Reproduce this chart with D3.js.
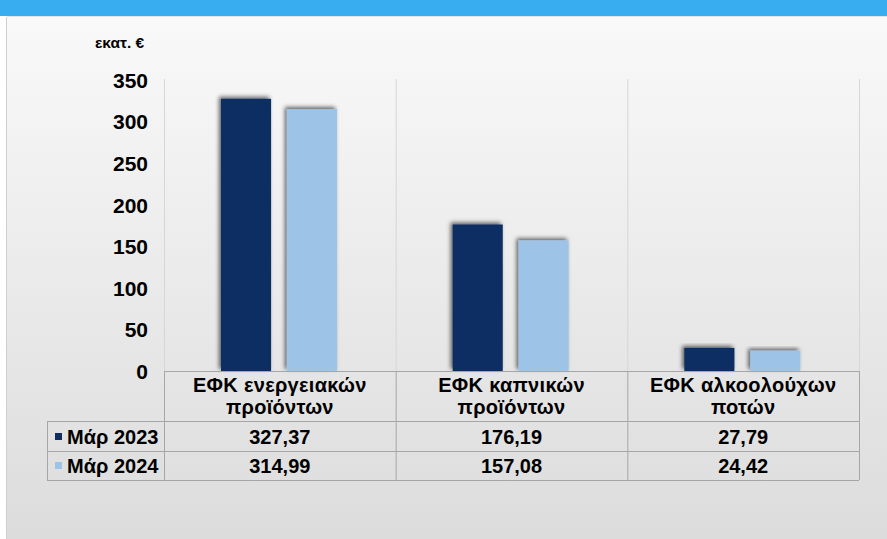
<!DOCTYPE html>
<html><head><meta charset="utf-8">
<script src="https://cdn.jsdelivr.net/npm/d3@7"></script>
<style>
html,body{margin:0;padding:0;background:#fff;}
svg{display:block;font-family:"Liberation Sans",Arial,sans-serif;}
</style></head>
<body>
<svg id="chart" width="887" height="539"></svg>
<script>
const categories = [["ΕΦΚ ενεργειακών","προϊόντων"],["ΕΦΚ καπνικών","προϊόντων"],["ΕΦΚ αλκοολούχων","ποτών"]];
const seriesNames = ["Μάρ 2023","Μάρ 2024"];
const values2023 = [327.37,176.19,27.79];
const values2024 = [314.99,157.08,24.42];
const labels2023 = ["327,37","176,19","27,79"];
const labels2024 = ["314,99","157,08","24,42"];
const yTicks = [0,50,100,150,200,250,300,350];
const unitLabel = "εκατ. €";

(function(){
const colors = ["#0f2d62","#9dc3e6"];
const svg = d3.select("#chart");
const defs = svg.append("defs");
const grad = defs.append("linearGradient").attr("id","bg").attr("x1",0).attr("y1",0).attr("x2",0).attr("y2",1);
grad.append("stop").attr("offset","0%").attr("stop-color","#f9f9f9");
grad.append("stop").attr("offset","100%").attr("stop-color","#dcdcdc");
const f = defs.append("filter").attr("id","sh").attr("x","-20%").attr("y","-20%").attr("width","140%").attr("height","140%");
f.append("feDropShadow").attr("dx",-2).attr("dy",-2).attr("stdDeviation",2.2).attr("flood-color","#000").attr("flood-opacity",0.6);

svg.append("rect").attr("x",0).attr("y",0).attr("width",887).attr("height",539).attr("fill","#fff");
svg.append("rect").attr("x",7).attr("y",17).attr("width",880).attr("height",522).attr("fill","url(#bg)");
svg.append("line").attr("x1",6.5).attr("x2",6.5).attr("y1",17).attr("y2",539).attr("stroke","#cfcfcf");
svg.append("rect").attr("x",0).attr("y",0).attr("width",887).attr("height",16).attr("fill","#38aef0");
svg.append("line").attr("x1",7).attr("x2",887).attr("y1",16.5).attr("y2",16.5).attr("stroke","#e4e4e4");

const pLeft=164, pRight=859, pTop=79, zero=371;
const x = d3.scaleBand().domain(d3.range(categories.length)).range([pLeft,pRight]);
const xs = d3.scaleBand().domain(seriesNames).range([57,173]).paddingInner(0.24);
const y = d3.scaleLinear().domain([0,350]).range([zero,80]);

const gridX = [pLeft, ...d3.range(categories.length).map(i=>x(i)+x.bandwidth())];
svg.append("g").selectAll("line").data(gridX).join("line")
  .attr("x1",d=>d+0.5).attr("x2",d=>d+0.5).attr("y1",pTop).attr("y2",zero)
  .attr("stroke","#d6d6d6").attr("stroke-width",1);

const yAxis = d3.axisLeft(y).tickValues(yTicks).tickSize(0).tickPadding(0);
const ga = svg.append("g").attr("transform","translate(148,0)").call(yAxis);
ga.select(".domain").remove();
ga.selectAll("text").attr("font-size",21).attr("font-weight","bold").attr("fill","#000")
  .attr("font-family","'Liberation Sans',Arial,sans-serif").attr("dy","0.35em");

svg.append("text").attr("x",95).attr("y",48).attr("font-size",15.5).attr("font-weight","bold").text(unitLabel);

const allVals = [values2023, values2024];
seriesNames.forEach((s,si)=>{
  svg.append("g").selectAll("rect").data(allVals[si]).join("rect")
    .attr("x",(d,i)=>x(i)+xs(s)).attr("width",xs.bandwidth())
    .attr("y",d=>y(d)).attr("height",d=>zero-y(d))
    .attr("fill",colors[si]).attr("filter","url(#sh)");
});

const tLeft=47, rowTops=[371,421,451,480];
const tg = svg.append("g").attr("stroke","#a6a6a6").attr("stroke-width",1);
tg.append("line").attr("x1",pLeft).attr("x2",pRight).attr("y1",rowTops[0]+0.5).attr("y2",rowTops[0]+0.5);
[rowTops[1],rowTops[2],rowTops[3]].forEach(r=>tg.append("line").attr("x1",tLeft).attr("x2",pRight).attr("y1",r+0.5).attr("y2",r+0.5));
tg.append("line").attr("x1",tLeft+0.5).attr("x2",tLeft+0.5).attr("y1",rowTops[1]).attr("y2",rowTops[3]);
gridX.forEach(g=>tg.append("line").attr("x1",g+0.5).attr("x2",g+0.5).attr("y1",rowTops[0]).attr("y2",rowTops[3]));

const cx = i=>x(i)+x.bandwidth()/2;
categories.forEach((c,i)=>{
  c.forEach((line,li)=>{
    svg.append("text").attr("x",cx(i)).attr("y",392+li*22).attr("text-anchor","middle")
      .attr("font-size",20).attr("font-weight","bold").attr("letter-spacing","0.3").text(line);
  });
});
const allLabels=[labels2023,labels2024];
seriesNames.forEach((s,si)=>{
  const base = [444,473][si];
  svg.append("rect").attr("x",55).attr("y",base-11).attr("width",7).attr("height",7).attr("fill",colors[si]);
  svg.append("text").attr("x",67).attr("y",base).attr("font-size",20).attr("font-weight","bold").text(s);
  allLabels[si].forEach((v,i)=>{
    svg.append("text").attr("x",cx(i)).attr("y",base).attr("text-anchor","middle")
      .attr("font-size",20).attr("font-weight","bold").text(v);
  });
});
})();
</script>
</body></html>
